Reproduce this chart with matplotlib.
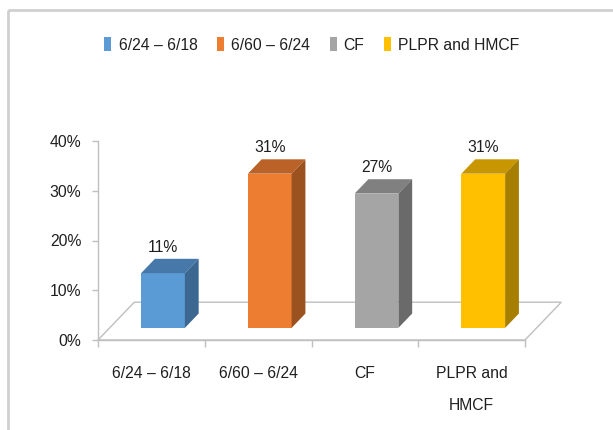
import matplotlib
matplotlib.use("Agg")
import matplotlib.pyplot as plt
from matplotlib.patches import Polygon, Rectangle

categories = ["6/24 – 6/18", "6/60 – 6/24", "CF", "PLPR and\nHMCF"]
legend_names = ["6/24 – 6/18", "6/60 – 6/24", "CF", "PLPR and HMCF"]
values = [11, 31, 27, 31]
value_labels = ["11%", "31%", "27%", "31%"]
y_ticks = [0, 10, 20, 30, 40]

front_colors = ["#5B9BD5", "#ED7D31", "#A5A5A5", "#FFC000"]
top_colors = ["#4679AA", "#BA6227", "#808080", "#C79600"]
side_colors = ["#3B6790", "#9C521F", "#6A6A6A", "#A67E00"]

FONT = ["Liberation Sans Narrow", "Liberation Sans", "DejaVu Sans"]
TEXT = "#1f1f1f"
FS = 11.3

W, H = 613, 430
fig = plt.figure(figsize=(W / 100, H / 100), dpi=100)

# chart frame (extends past the right/bottom edge)
frame = fig.add_axes([0, 0, 1, 1])
frame.set_xlim(0, W)
frame.set_ylim(H, 0)
frame.axis("off")
frame.add_patch(Rectangle((8, 10), W + 20, H + 20, fill=False,
                          edgecolor="#d0d0d0", linewidth=2))

# plot area: x from -0.5..3.5, y 0..40
ax = fig.add_axes([98 / W, (H - 340) / H, (525 - 98) / W, (340 - 141) / H])
ax.set_xlim(-0.5, 3.5)
ax.set_ylim(0, 40)
ax.patch.set_alpha(0)

# depth vectors in data units
floor_dx, floor_dy = 0.34, 7.6
bar_front = 0.32          # fraction of floor depth where bar front sits
bar_depth = 0.38          # fraction of floor depth taken by a bar
bar_w = 0.41

# floor
floor = Polygon([(-0.5, 0), (3.5, 0), (3.5 + floor_dx, floor_dy),
                 (-0.5 + floor_dx, floor_dy)], closed=True,
                facecolor="white", edgecolor="#bfbfbf", linewidth=1.0,
                clip_on=False, zorder=1)
ax.add_patch(floor)

for i, v in enumerate(values):
    ox = bar_front * floor_dx
    oy = bar_front * floor_dy
    x0 = i - bar_w / 2 + ox
    x1 = i + bar_w / 2 + ox
    y0 = oy
    y1 = oy + v
    ddx = bar_depth * floor_dx
    ddy = bar_depth * floor_dy
    front = Polygon([(x0, y0), (x1, y0), (x1, y1), (x0, y1)], closed=True,
                    facecolor=front_colors[i], edgecolor="none",
                    clip_on=False, zorder=3)
    top = Polygon([(x0, y1), (x1, y1), (x1 + ddx, y1 + ddy), (x0 + ddx, y1 + ddy)],
                  closed=True, facecolor=top_colors[i], edgecolor="none",
                  clip_on=False, zorder=3)
    side = Polygon([(x1, y0), (x1 + ddx, y0 + ddy), (x1 + ddx, y1 + ddy), (x1, y1)],
                   closed=True, facecolor=side_colors[i], edgecolor="none",
                   clip_on=False, zorder=3)
    for p in (front, top, side):
        ax.add_patch(p)
    ax.text(i + ox, y1 + ddy + 0.8, value_labels[i], ha="center", va="bottom",
            fontsize=FS, family=FONT, color=TEXT, zorder=4)

# axes styling
for s in ("top", "right"):
    ax.spines[s].set_visible(False)
for s in ("left", "bottom"):
    ax.spines[s].set_color("#bfbfbf")
    ax.spines[s].set_linewidth(1.0)

ax.set_yticks(y_ticks)
ax.set_yticklabels([f"{t}%" for t in y_ticks], family=FONT, fontsize=FS, color=TEXT)
ax.set_xticks([i for i in range(len(categories))])
ax.set_xticklabels(categories, family=FONT, fontsize=FS, color=TEXT,
                   linespacing=2.4, va="top")
ax.set_xticks([i - 0.5 for i in range(len(categories) + 1)], minor=True)
ax.tick_params(axis="x", which="major", length=0, pad=19)
ax.tick_params(axis="x", which="minor", length=5, color="#bfbfbf", width=1.0)
ax.tick_params(axis="y", length=4, color="#bfbfbf", width=1.0, pad=8)

# legend
handles = [Rectangle((0, 0), 1, 1, facecolor=c, edgecolor="none") for c in front_colors]
fig.legend(handles, legend_names, loc="center", bbox_to_anchor=(312 / W, 1 - 45 / H),
           ncol=4, frameon=False, prop={"family": FONT, "size": FS},
           handlelength=0.45, handleheight=1.0, handletextpad=0.45,
           columnspacing=1.25, labelcolor=TEXT)

fig.savefig("out.png", dpi=100)
